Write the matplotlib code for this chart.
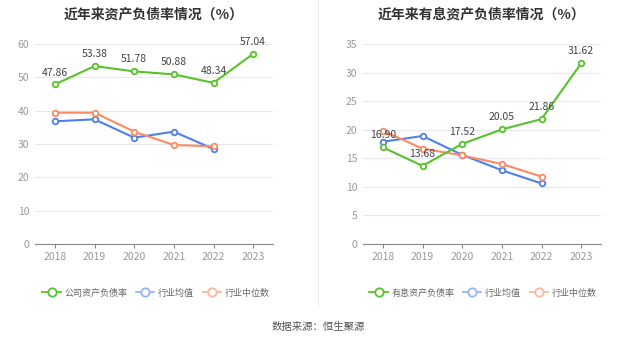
import matplotlib.pyplot as plt
from matplotlib.lines import Line2D

plt.rcParams['font.family'] = ['Noto Sans CJK SC', 'DejaVu Sans']

years = ['2018', '2019', '2020', '2021', '2022', '2023']

# left chart: asset-liability ratio
company = [47.86, 53.38, 51.78, 50.88, 48.34, 57.04]
ind_avg = [36.8, 37.4, 31.9, 33.7, 28.5]
ind_median = [39.4, 39.4, 33.7, 29.7, 29.3]

# right chart: interest-bearing asset-liability ratio
company2 = [16.90, 13.68, 17.52, 20.05, 21.86, 31.62]
ind_avg2 = [17.9, 18.9, 15.6, 12.9, 10.6]
ind_median2 = [19.8, 16.7, 15.5, 14.0, 11.8]

GREEN = '#58c22b'
BLUE = '#4f80ea'
ORANGE = '#fc8a62'
LBLUE = '#98b6f4'
LORANGE = '#fdb79f'

fig = plt.figure(figsize=(6.37, 3.44), dpi=100)
W, H = 637, 344


def draw(ax, comp, avg, med, ymax, step, title):
    x = list(range(len(years)))
    for vals, c in [(avg, BLUE), (med, ORANGE), (comp, GREEN)]:
        ax.plot(x[:len(vals)], vals, color=c, lw=1.5, marker='o', ms=4,
                mfc='white', mec=c, mew=1.3, zorder=3)
    for i, v in enumerate(comp):
        ax.annotate('%.2f' % v, (i, v), xytext=(0, 5), textcoords='offset points',
                    ha='center', va='bottom', fontsize=7.5, color='#444444')
    ax.set_ylim(0, ymax)
    ax.set_yticks(range(0, ymax + 1, step))
    ax.set_xlim(-0.5, len(years) - 0.5)
    ax.set_xticks(x)
    ax.set_xticklabels(years)
    ax.grid(axis='y', color='#e6e9f2', lw=0.8)
    ax.set_axisbelow(True)
    for s in ['top', 'right', 'left']:
        ax.spines[s].set_visible(False)
    ax.spines['bottom'].set_color('#888888')
    ax.tick_params(axis='both', length=0, labelsize=7.5, colors='#999999', pad=4)
    ax.tick_params(axis='x', length=3, color='#888888', pad=3)
    ax.set_title(title, fontsize=10, fontweight='bold', color='#333333', pad=18)


ax1 = fig.add_axes([35 / W, 1 - 244 / H, 238 / W, 200 / H])
draw(ax1, company, ind_avg, ind_median, 60, 10, '近年来资产负债率情况（%）')
ax2 = fig.add_axes([363 / W, 1 - 244 / H, 238 / W, 200 / H])
draw(ax2, company2, ind_avg2, ind_median2, 35, 5, '近年来有息资产负债率情况（%）')

# divider
fig.add_artist(Line2D([318 / W, 318 / W], [1 - 305 / H, 1], color='#eeeeee', lw=0.8))


def handle(c):
    return Line2D([], [], color=c, lw=1.3, marker='o', ms=6, mfc='white', mec=c, mew=1.3)


legend_kw = dict(loc='center', ncol=3, frameon=False, fontsize=6.5,
                 handlelength=2, columnspacing=1.0, handletextpad=0.4,
                 labelcolor='#666666')
fig.legend([handle(GREEN), handle(LBLUE), handle(LORANGE)],
           ['公司资产负债率', '行业均值', '行业中位数'],
           bbox_to_anchor=(156 / W, 1 - 293 / H), **legend_kw)
fig.legend([handle(GREEN), handle(LBLUE), handle(LORANGE)],
           ['有息资产负债率', '行业均值', '行业中位数'],
           bbox_to_anchor=(483 / W, 1 - 293 / H), **legend_kw)

fig.text(0.5, 1 - 327 / H, '数据来源：恒生聚源', ha='center', va='center',
         fontsize=7.5, color='#555555')

fig.savefig('out.png', dpi=100, facecolor='white')
